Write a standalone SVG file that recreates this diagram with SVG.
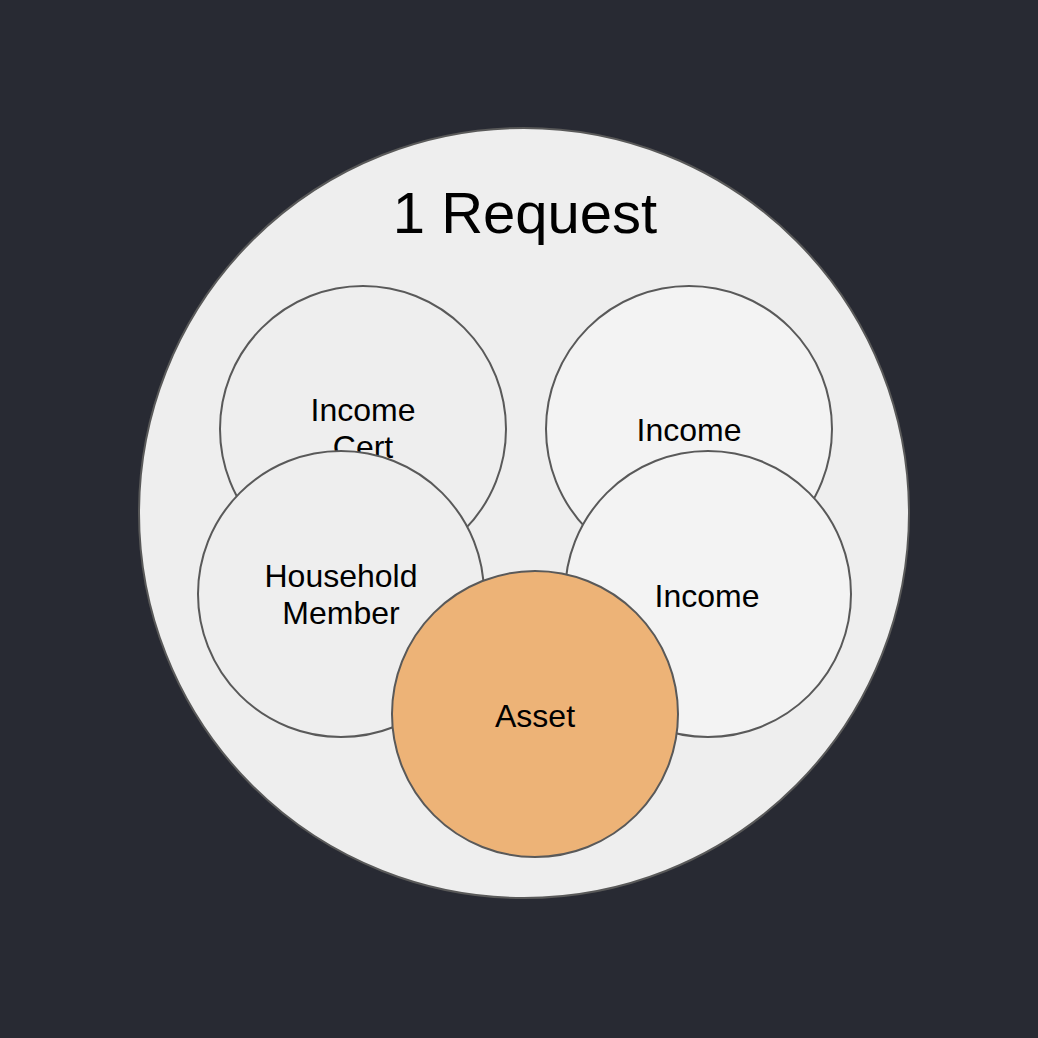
<svg xmlns="http://www.w3.org/2000/svg" width="1038" height="1038" viewBox="0 0 1038 1038">
  <style>
    .ring { stroke: #595959; stroke-width: 2; }
    .plain { fill: #eeeeee; }
    .light { fill: #f3f3f3; }
    .asset { fill: #edb377; }
    .label { font-family: "Liberation Sans", Arial, sans-serif; font-size: 32px; fill: #000000; text-anchor: middle; }
    .title { font-family: "Liberation Sans", Arial, sans-serif; font-size: 58px; fill: #000000; text-anchor: middle; }
  </style>
  <rect width="1038" height="1038" fill="#282a33"/>

  <g id="request">
    <circle class="ring plain" cx="524" cy="513" r="385"/>
    <text class="title" x="525" y="233">1 Request</text>
  </g>

  <g id="income-cert">
    <circle class="ring plain" cx="363" cy="429" r="143"/>
    <text class="label" x="363" y="421">Income</text>
    <text class="label" x="363" y="458">Cert</text>
  </g>

  <g id="income-a">
    <circle class="ring light" cx="689" cy="429" r="143"/>
    <text class="label" x="689" y="441">Income</text>
  </g>

  <g id="household-member">
    <circle class="ring plain" cx="341" cy="594" r="143"/>
    <text class="label" x="341" y="587">Household</text>
    <text class="label" x="341" y="624">Member</text>
  </g>

  <g id="income-b">
    <circle class="ring light" cx="708" cy="594" r="143"/>
    <text class="label" x="707" y="607">Income</text>
  </g>

  <g id="asset">
    <circle class="ring asset" cx="535" cy="714" r="143"/>
    <text class="label" x="535" y="727">Asset</text>
  </g>

  <g id="connectors"/>
</svg>
